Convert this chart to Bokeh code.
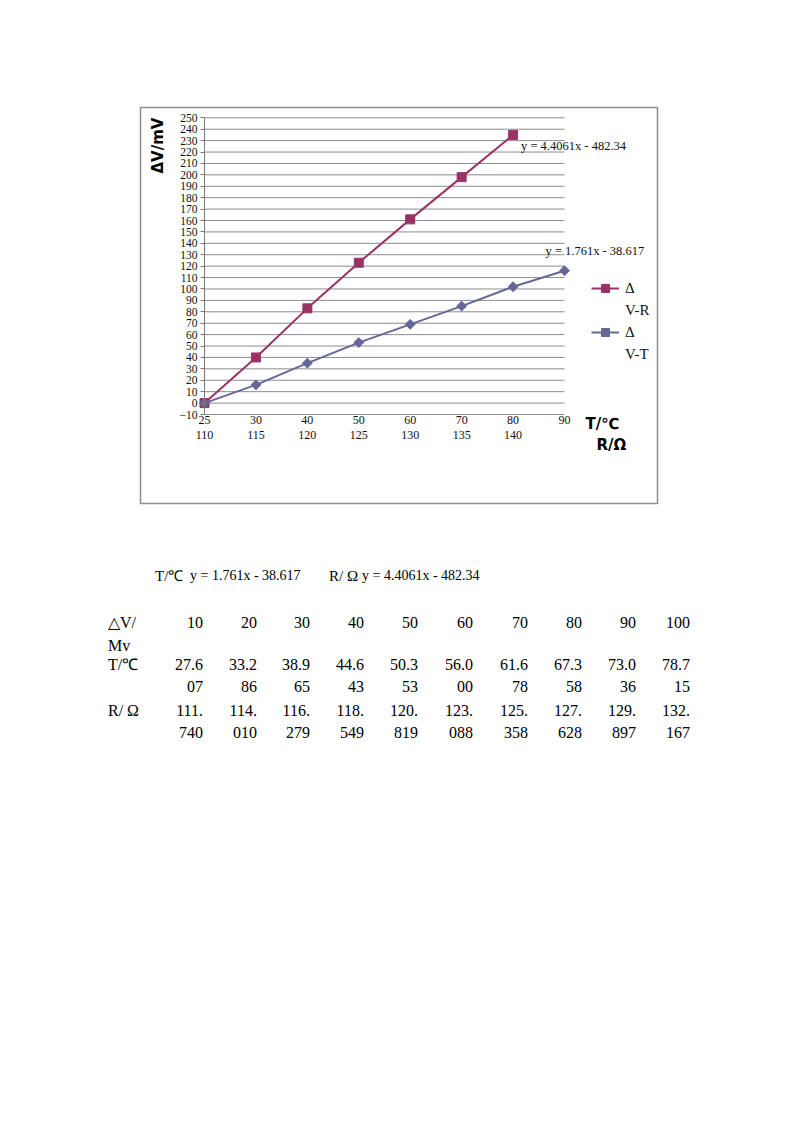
import math
from bokeh.plotting import figure
from bokeh.models import (LinearAxis, FixedTicker, SingleIntervalTicker, Range1d, Label,
                          Legend, LegendItem, Div, Spacer, ColumnDataSource)
from bokeh.layouts import column, row
from bokeh.core.properties import value
from bokeh.embed import file_html
from bokeh.resources import INLINE

# ---------------- data ----------------
temps = [25, 30, 40, 50, 60, 70, 80, 90]        # T/℃ category labels
resist = [110, 115, 120, 125, 130, 135, 140]     # R/Ω category labels (second row)
dv_r = [0, 40, 83, 123, 161, 198, 235]           # ΔV-R series (mV)
dv_t = [0, 16, 35, 53, 69, 85, 102, 116]         # ΔV-T series (mV)
fit_r = "y = 4.4061x - 482.34"
fit_t = "y = 1.761x - 38.617"
y_ticks = list(range(-10, 251, 10))               # value axis ticks

table_dv = ["10", "20", "30", "40", "50", "60", "70", "80", "90", "100"]
table_t = ["27.607", "33.286", "38.965", "44.643", "50.353", "56.000", "61.678", "67.358", "73.036", "78.715"]
table_r = ["111.740", "114.010", "116.279", "118.549", "120.819", "123.088", "125.358", "127.628", "129.897", "132.167"]

RED = "#993366"
BLUE = "#666699"
GRID = "#8c8c8c"
INK = "#111111"
SERIF = "Liberation Serif"

idx_t = list(range(len(temps)))
idx_r = list(range(len(dv_r)))

# ---------------- geometry of the chart box (page pixels) ----------------
BOX_L, BOX_R, BOX_T, BOX_B = 140, 657, 107, 503
PLOT_L, PLOT_R = 204, 564            # first .. last category
PLOT_T, PLOT_B = 117.3, 414          # value 250 .. value -10
PAD = 2
xs = (PLOT_R - PLOT_L) / (len(temps) - 1)
ys = (PLOT_B - PLOT_T) / (y_ticks[-1] - y_ticks[0])
x_start = (BOX_L - PLOT_L) / xs
x_end = (len(temps) - 1) + (BOX_R - PLOT_R) / xs
y_end = y_ticks[-1] + (PLOT_T - BOX_T) / ys
y_start = y_ticks[0] - (BOX_B - PLOT_B) / ys

src_r = ColumnDataSource(dict(x=idx_r, y=dv_r))
src_t = ColumnDataSource(dict(x=idx_t, y=dv_t))

p = figure(width=BOX_R - BOX_L + 2 * PAD, height=BOX_B - BOX_T + 2 * PAD,
           x_range=Range1d(x_start, x_end), y_range=Range1d(y_start, y_end),
           output_backend="svg", toolbar_location=None,
           x_axis_type=None, y_axis_type=None,
           min_border=PAD, min_border_left=PAD, min_border_right=PAD,
           min_border_top=PAD, min_border_bottom=PAD)
p.outline_line_color = "#8f8f8f"
p.outline_line_width = 1.5
p.grid.visible = False

# horizontal gridlines only across the category span
p.segment(x0=idx_t[0], x1=idx_t[-1], y0=y_ticks, y1=y_ticks, line_color=GRID, line_width=1)

ya = LinearAxis(ticker=SingleIntervalTicker(interval=10), fixed_location=idx_t[0],
                bounds=(y_ticks[0], y_ticks[-1]),
                minor_tick_line_color=None, major_tick_out=4, major_tick_in=0,
                axis_line_color="#7a7a7a", major_tick_line_color="#7a7a7a",
                major_label_text_font=SERIF, major_label_text_font_size="11.5px",
                major_label_text_color=INK, major_label_standoff=3)
p.add_layout(ya, "left")

xa = LinearAxis(ticker=FixedTicker(ticks=idx_t), fixed_location=y_ticks[0],
                major_label_overrides={i: str(t) for i, t in zip(idx_t, temps)},
                axis_line_color=None, major_tick_line_color=None, minor_tick_line_color=None,
                major_tick_out=0, major_tick_in=0, major_label_standoff=1,
                major_label_text_font=SERIF, major_label_text_font_size="12px",
                major_label_text_color=INK)
p.add_layout(xa, "below")

xa2 = LinearAxis(ticker=FixedTicker(ticks=list(range(len(resist)))), fixed_location=y_ticks[0],
                 major_label_overrides={i: str(r) for i, r in enumerate(resist)},
                 axis_line_color=None, major_tick_line_color=None, minor_tick_line_color=None,
                 major_tick_out=0, major_tick_in=0, major_label_standoff=16,
                 major_label_text_font=SERIF, major_label_text_font_size="12px",
                 major_label_text_color=INK)
p.add_layout(xa2, "below")

lr = p.line("x", "y", source=src_r, color=RED, line_width=2)
mr = p.scatter("x", "y", source=src_r, marker="square", size=9, color=RED)
lt = p.line("x", "y", source=src_t, color=BLUE, line_width=2)
mt = p.scatter("x", "y", source=src_t, marker="square", angle=math.pi / 4, size=7, color=BLUE)

# trendline equations next to the last points
p.add_layout(Label(x=idx_r[-1], y=dv_r[-1], x_offset=8, y_offset=-11, text=fit_r,
                   text_font=SERIF, text_font_size="12.5px", text_baseline="middle", text_color=INK))
p.add_layout(Label(x=idx_t[-1], y=dv_t[-1], x_offset=-19, y_offset=20, text=fit_t,
                   text_font=SERIF, text_font_size="12.5px", text_baseline="middle", text_color=INK))

# axis titles (screen units from the lower-left corner of the box)
p.add_layout(Label(x=17.5, y=330, x_units="screen", y_units="screen", text="ΔV/mV",
                   angle=math.pi / 2, text_font="DejaVu Sans", text_font_style="bold",
                   text_font_size="15px", text_baseline="middle", text_align="left", text_color="#000"))
p.add_layout(Label(x=445, y=80, x_units="screen", y_units="screen", text="T/℃",
                   text_font="DejaVu Sans", text_font_style="bold",
                   text_font_size="15px", text_baseline="middle", text_color="#000"))
p.add_layout(Label(x=456, y=59, x_units="screen", y_units="screen", text="R/Ω",
                   text_font="DejaVu Sans", text_font_style="bold",
                   text_font_size="15px", text_baseline="middle", text_color="#000"))

# legend: label wraps onto a second line, glyph sits on the first line
legend = Legend(items=[LegendItem(label=value("Δ"), renderers=[lr, mr]),
                       LegendItem(label=value("V-R"), renderers=[]),
                       LegendItem(label=value("Δ"), renderers=[lt, mt]),
                       LegendItem(label=value("V-T"), renderers=[])],
                location=(451, 139), border_line_color=None, background_fill_alpha=0,
                padding=0, margin=0, glyph_width=28, glyph_height=20, label_height=20,
                label_standoff=6, spacing=2,
                label_text_font=SERIF, label_text_font_size="15px", label_text_color=INK)
p.add_layout(legend)

# ---------------- table text below the chart ----------------
DIV_TOP = BOX_B + PAD
spans = []


def span(txt, y, left=None, right=None, size=16, font=SERIF):
    pos = f"left:{left}px;" if left is not None else f"right:{800 - right}px;"
    spans.append(f'<span style="position:absolute;{pos}top:{y - DIV_TOP - 10}px;'
                 f'line-height:20px;white-space:nowrap;font-family:\'{font}\';font-size:{size}px;">{txt}</span>')


span("T/℃", 576, left=155, size=15)
span(fit_t, 576, left=190, size=14)
span("R/ Ω", 576, left=329, size=15)
span(fit_r, 576, left=362, size=14)

col_right = [203, 257, 310, 364, 418, 473, 528, 582, 636, 690]
span("△V/", 623, left=108)
span("Mv", 646, left=108)
span("T/℃", 665, left=108)
span("R/ Ω", 711, left=108)
for c, v in zip(col_right, table_dv):
    span(v, 623, right=c)
for c, v in zip(col_right, table_t):
    span(v[:4], 665, right=c)
    span(v[4:], 687, right=c)
for c, v in zip(col_right, table_r):
    span(v[:4], 711, right=c)
    span(v[4:], 733, right=c)

div = Div(text='<div style="position:relative;width:800px;height:300px;color:#000;">' + "".join(spans) + "</div>",
          width=800, height=300, margin=0)

layout = column(Spacer(height=BOX_T - PAD, width=800, margin=0),
                row(Spacer(width=BOX_L - PAD, height=BOX_B - BOX_T + 2 * PAD, margin=0), p, margin=0),
                div, margin=0)

open("out.html", "w").write(file_html(layout, INLINE))
